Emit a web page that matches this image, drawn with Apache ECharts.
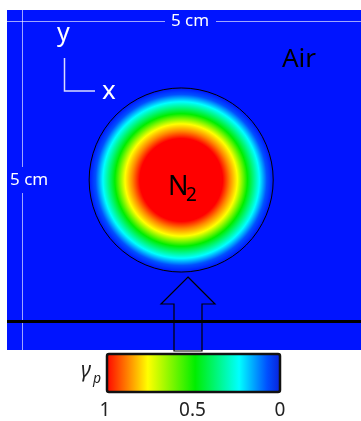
<!DOCTYPE html>
<html><head><meta charset="utf-8">
<script src="https://cdn.jsdelivr.net/npm/echarts@6/dist/echarts.min.js"></script>
<style>html,body{margin:0;padding:0;background:#fff}#c{width:361px;height:421px}</style>
</head><body><div id="c"></div>
<script>
// Domain (cm)
const domainX = [0, 5];
const domainY = [0, 5];
// N2 drop: centre (cm) and radius (cm, x-scale)
const dropCenter = [2.46, 2.5];
const dropRadius = [1.30];
// Radial profile of the volume fraction Yp (radius as fraction of drop radius)
const profileRadius = [0, 0.45, 0.53, 0.61, 0.72, 0.85, 0.93, 1.0];
const profileYp = [1, 1, 0.87, 0.76, 0.49, 0.24, 0.08, 0];
// Colormap (value -> colour)
const cmapValues = [0, 0.08, 0.24, 0.49, 0.76, 0.87, 1];
const cmapColors = ['#0a1ed8', '#0050ff', '#00ffff', '#00ee00', '#ffff00', '#ff8800', '#ff0000'];
const colorbarTicks = [1, 0.5, 0];

const bgBlue = '#0014ff';

function hex2rgb(h){return [parseInt(h.slice(1,3),16),parseInt(h.slice(3,5),16),parseInt(h.slice(5,7),16)];}
function cmap(v, zeroColor){
  if (v <= 0) return zeroColor || cmapColors[0];
  for (let i=1;i<cmapValues.length;i++){
    if (v <= cmapValues[i]){
      const t=(v-cmapValues[i-1])/(cmapValues[i]-cmapValues[i-1]);
      const a=hex2rgb(i===1 && zeroColor ? zeroColor : cmapColors[i-1]), b=hex2rgb(cmapColors[i]);
      return 'rgb('+a.map((x,k)=>Math.round(x+(b[k]-x)*t)).join(',')+')';
    }
  }
  return cmapColors[cmapColors.length-1];
}

const chart = echarts.init(document.getElementById('c'));
const font = 'Noto Sans';
const dimColor = 'rgba(255,255,255,0.62)';

const barStops = cmapValues.map((v,i)=>({offset:1-v, color:cmapColors[i]})).reverse();

const graphics = [
    // dimension lines
    {type:'line', shape:{x1:7,y1:21.5,x2:165,y2:21.5}, style:{stroke:dimColor, lineWidth:1}},
    {type:'line', shape:{x1:216,y1:21.5,x2:361,y2:21.5}, style:{stroke:dimColor, lineWidth:1}},
    {type:'line', shape:{x1:22.5,y1:10,x2:22.5,y2:167}, style:{stroke:dimColor, lineWidth:1}},
    {type:'line', shape:{x1:22.5,y1:193,x2:22.5,y2:350}, style:{stroke:dimColor, lineWidth:1}},
    {type:'text', x:190, y:21, style:{text:'5 cm', fill:'#fff', fontSize:17, fontFamily:font, align:'center', verticalAlign:'middle'}},
    {type:'text', x:10, y:180, style:{text:'5 cm', fill:'#fff', fontSize:17, fontFamily:font, align:'left', verticalAlign:'middle'}},
    // coordinate glyph
    {type:'polyline', shape:{points:[[64.5,58],[64.5,91],[95,91]]}, style:{stroke:'#d8dcff', lineWidth:1.5, fill:'none'}},
    {type:'text', x:57, y:34, style:{text:'y', fill:'#fff', fontSize:25, fontFamily:font, align:'left', verticalAlign:'middle'}},
    {type:'text', x:102, y:92, style:{text:'x', fill:'#fff', fontSize:26, fontFamily:font, align:'left', verticalAlign:'middle'}},
    // labels
    {type:'text', x:282, y:60, style:{text:'Air', fill:'#000', fontSize:26, fontFamily:font, align:'left', verticalAlign:'middle'}},
    {type:'text', x:168, y:187, style:{text:'N', fill:'#000', fontSize:27, fontFamily:font, align:'left', verticalAlign:'middle'}},
    {type:'text', x:186, y:196, style:{text:'2', fill:'#000', fontSize:19, fontFamily:font, align:'left', verticalAlign:'middle'}},
    // wall line
    {type:'line', shape:{x1:7,y1:321.5,x2:361,y2:321.5}, style:{stroke:'#000', lineWidth:3}},
    // inflow arrow
    {type:'polygon', shape:{points:[[188,277],[215,304],[202,304],[202,351],[174,351],[174,304],[161,304]]},
     style:{fill:'none', stroke:'#000', lineWidth:1.2}},
    // colour bar
    {type:'rect', shape:{x:107, y:354, width:173, height:38, r:2},
     style:{fill:new echarts.graphic.LinearGradient(0,0,1,0,barStops), stroke:'#111', lineWidth:2.5}},
    {type:'text', x:81, y:371, style:{text:'γ', fill:'#222', fontSize:21, fontStyle:'italic', fontFamily:font, align:'left', verticalAlign:'middle'}},
    {type:'text', x:93, y:379, style:{text:'p', fill:'#222', fontSize:14, fontStyle:'italic', fontFamily:font, align:'left', verticalAlign:'middle'}}
];
graphics.forEach(g => { g.z = 100; });

chart.setOption({
  backgroundColor:'#fff',
  animation:false,
  grid:[
    {left:7, top:10, width:354, height:340, show:true, backgroundColor:bgBlue, borderWidth:0},
    {left:105, top:354, width:175, height:38, show:false}
  ],
  xAxis:[
    {gridIndex:0, type:'value', min:domainX[0], max:domainX[1], show:false},
    {gridIndex:1, type:'value', min:0, max:1, interval:0.5, inverse:true,
     axisLine:{show:false}, axisTick:{show:false}, splitLine:{show:false},
     axisLabel:{margin:9, fontSize:19, color:'#222', fontFamily:font,
       customValues:colorbarTicks}}
  ],
  yAxis:[
    {gridIndex:0, type:'value', min:domainY[0], max:domainY[1], show:false},
    {gridIndex:1, type:'value', min:0, max:1, show:false}
  ],
  series:[{
    type:'custom', xAxisIndex:0, yAxisIndex:0, silent:true, z:2,
    data:[[dropCenter[0], dropCenter[1], dropRadius[0]]],
    renderItem:function(params, api){
      const c = api.coord([api.value(0), api.value(1)]);
      const r = api.size([api.value(2), 0])[0];
      const stops = profileRadius.map((f,i)=>({offset:f, color:cmap(profileYp[i], bgBlue)}));
      return {type:'group', children:[
        {type:'circle', shape:{cx:c[0], cy:c[1], r:r},
         style:{fill:new echarts.graphic.RadialGradient(0.5,0.5,0.5,stops)}},
        {type:'circle', shape:{cx:c[0], cy:c[1], r:r},
         style:{fill:'none', stroke:'#000', lineWidth:1}}
      ]};
    }
  }],
  graphic:graphics
});
</script></body></html>
